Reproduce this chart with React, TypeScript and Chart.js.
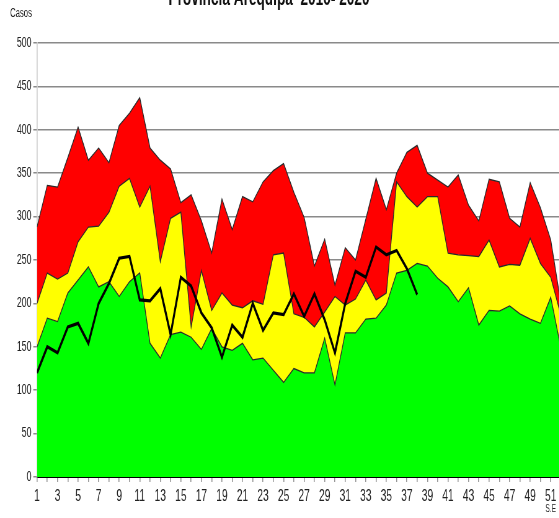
import React, { useEffect, useRef } from 'react';
import { Chart, registerables } from 'chart.js';

Chart.register(...registerables);

const TITLE = 'Provincia Arequipa  2010- 2020';
const Y_TITLE = 'Casos';
const X_TITLE = 'S.E';

const weeks = [1, 2, 3, 4, 5, 6, 7, 8, 9, 10, 11, 12, 13, 14, 15, 16, 17, 18, 19, 20, 21, 22, 23, 24, 25, 26,
  27, 28, 29, 30, 31, 32, 33, 34, 35, 36, 37, 38, 39, 40, 41, 42, 43, 44, 45, 46, 47, 48, 49, 50, 51, 52];

// upper limit of the epidemic zone (red)
const epidemia = [288, 336, 334, 368, 403, 365, 379, 362, 405, 419, 437, 379, 365, 355, 316, 325, 295, 258, 320, 285,
  323, 317, 340, 353, 361, 328, 299, 243, 274, 221, 264, 250, 297, 344, 308, 350, 374, 382, 350, 342,
  334, 348, 313, 295, 343, 340, 298, 288, 339, 310, 273, 199];

// alarm zone upper limit (yellow)
const alarma = [200, 235, 228, 235, 271, 288, 289, 305, 335, 344, 311, 335, 248, 298, 305, 173, 238, 192, 212, 198,
  195, 203, 199, 256, 258, 188, 184, 173, 190, 208, 198, 205, 227, 204, 212, 340, 323, 311, 323, 323,
  258, 256, 255, 254, 273, 242, 245, 244, 275, 246, 230, 186];

// security zone upper limit (green)
const seguridad = [150, 183, 179, 212, 227, 242, 219, 225, 208, 225, 235, 154, 137, 164, 167, 161, 147, 171, 150, 146,
  154, 135, 137, 123, 109, 125, 120, 120, 160, 106, 166, 166, 182, 183, 198, 235, 238, 246, 243, 229,
  219, 202, 218, 175, 192, 191, 197, 188, 182, 177, 207, 148];

// cases 2020 (weeks 1-38)
const casos2020 = [120, 150, 143, 173, 177, 154, 200, 223, 252, 254, 204, 203, 217, 164, 230, 220, 189, 172, 138, 175,
  161, 200, 169, 189, 187, 211, 185, 211, 181, 143, 200, 237, 230, 265, 256, 261, 240, 210];

const yTicks = [0, 50, 100, 150, 200, 250, 300, 350, 400, 450, 500];

const SX = 0.62; // horizontal squeeze of the picture
const CW = 920;
const CH = 518;

const toPts = (vals: number[]) => vals.map((v, i) => ({ x: weeks[i], y: v }));

const annotPlugin = {
  id: 'annot',
  afterDraw(chart: any) {
    const ctx = chart.ctx;
    ctx.save();
    ctx.fillStyle = '#111';
    ctx.font = "bold 22px 'Liberation Sans', Arial, sans-serif";
    ctx.textAlign = 'center';
    ctx.textBaseline = 'alphabetic';
    ctx.fillText(TITLE, 269 / SX, 5);
    ctx.fillStyle = '#222';
    ctx.font = "12.5px 'Liberation Sans', Arial, sans-serif";
    ctx.textAlign = 'left';
    ctx.fillText(Y_TITLE, 10 / SX, 17);
    const xs = chart.scales.x;
    ctx.font = "10.5px 'Liberation Sans', Arial, sans-serif";
    ctx.textAlign = 'center';
    ctx.textBaseline = 'middle';
    ctx.fillText(X_TITLE, xs.getPixelForValue(51), 509);
    ctx.restore();
  },
};

export default function App() {
  const ref = useRef<HTMLCanvasElement | null>(null);

  useEffect(() => {
    if (!ref.current) return;
    const outline = '#2a2a2a';
    const chart = new Chart(ref.current, {
      type: 'line',
      data: {
        datasets: [
          {
            label: '2020',
            data: toPts(casos2020),
            borderColor: '#000',
            borderWidth: 3.2,
            pointRadius: 0,
            fill: false,
            tension: 0,
          },
          {
            label: 'Epidemia',
            data: toPts(epidemia),
            borderColor: outline,
            borderWidth: 1.3,
            backgroundColor: '#ff0000',
            pointRadius: 0,
            fill: 2,
            tension: 0,
          },
          {
            label: 'Alarma',
            data: toPts(alarma),
            borderColor: outline,
            borderWidth: 1.3,
            backgroundColor: '#ffff00',
            pointRadius: 0,
            fill: 3,
            tension: 0,
          },
          {
            label: 'Seguridad',
            data: toPts(seguridad),
            borderColor: outline,
            borderWidth: 1.3,
            backgroundColor: '#00ff00',
            pointRadius: 0,
            fill: 'origin',
            tension: 0,
          },
        ],
      },
      options: {
        responsive: false,
        devicePixelRatio: 1,
        animation: false,
        layout: { padding: { top: 43, right: CW - 561 / SX, left: 0, bottom: 0 } },
        plugins: {
          legend: { display: false },
          tooltip: { enabled: false },
          title: { display: false },
          filler: { drawTime: 'beforeDatasetsDraw' },
        },
        scales: {
          x: {
            type: 'linear',
            min: 1,
            max: 52,
            afterBuildTicks: (scale: any) => {
              scale.ticks = weeks.map((v) => ({ value: v }));
            },
            afterFit: (scale: any) => {
              scale.height = CH - 477;
            },
            ticks: {
              autoSkip: false,
              maxRotation: 0,
              minRotation: 0,
              padding: 5,
              color: '#222',
              font: { family: "'Liberation Sans Narrow', 'Liberation Sans', Arial, sans-serif", size: 16.5 },
              callback: (v: any) => (Number(v) % 2 === 1 ? String(v) : ''),
            },
            grid: {
              drawOnChartArea: false,
              drawTicks: true,
              tickLength: 5,
              color: '#999',
              lineWidth: 1.6,
            },
            border: { display: true, color: '#000', width: 2 },
          },
          y: {
            min: 0,
            max: 500,
            afterBuildTicks: (scale: any) => {
              scale.ticks = yTicks.map((v) => ({ value: v }));
            },
            afterFit: (scale: any) => {
              scale.width = 37 / SX;
            },
            ticks: {
              padding: 3,
              color: '#222',
              font: { family: "'Liberation Sans', Arial, sans-serif", size: 14 },
            },
            grid: {
              color: '#8a8a8a',
              lineWidth: 1.5,
              tickLength: 6,
            },
            border: { display: true, color: '#c4c4c4', width: 1.6 },
          },
        },
      },
      plugins: [annotPlugin],
    } as any);
    return () => chart.destroy();
  }, []);

  return (
    <div
      style={{
        position: 'fixed',
        left: 0,
        top: 0,
        width: 559,
        height: 518,
        overflow: 'hidden',
        background: '#fff',
      }}
    >
      <canvas
        ref={ref}
        width={CW}
        height={CH}
        style={{
          position: 'absolute',
          left: 0,
          top: 0,
          width: `${CW}px`,
          height: `${CH}px`,
          transform: `scaleX(${SX})`,
          transformOrigin: '0 0',
        }}
      />
    </div>
  );
}
